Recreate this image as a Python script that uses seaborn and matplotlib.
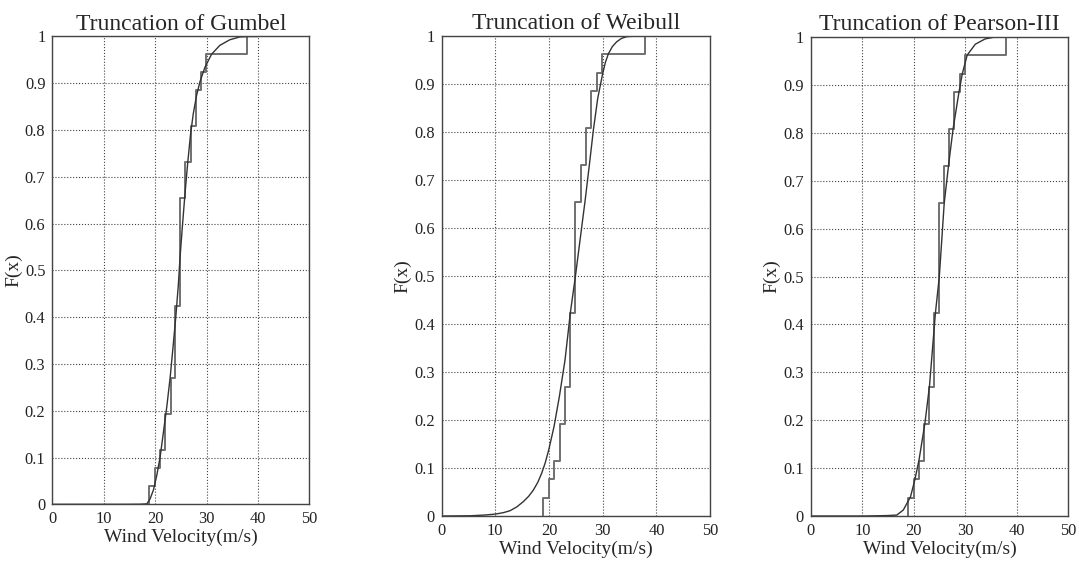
#Distribuciones truncadas frente a la funcion empirica de la velocidad del viento
import matplotlib
matplotlib.use('Agg')
import matplotlib.pyplot as plt
from matplotlib.ticker import MultipleLocator, FuncFormatter
import seaborn as sns

wind_speed = [18.9, 20.0, 21.0, 22.0, 22.0, 23.0, 23.0,
              23.9, 23.9, 23.9, 23.9,
              24.9, 24.9, 24.9, 24.9, 24.9, 24.9,
              25.9, 25.9, 26.9, 26.9, 27.9, 27.9,
              28.9, 29.9, 37.9]

# curvas ajustadas
gumbel_x = [0, 14.0, 17.0, 18.39, 19.03, 19.68, 20.32, 20.97, 21.61, 22.26, 22.90,
            23.55, 24.06, 24.52, 24.84, 25.29, 25.81, 26.32, 26.90, 27.42,
            28.06, 28.71, 29.68, 30.97, 32.58, 34.52, 36.45, 38.39, 40.0]
gumbel_F = [0, 0, 0.0002, 0.001, 0.012, 0.031, 0.062, 0.101, 0.154, 0.208, 0.269,
            0.344, 0.406, 0.470, 0.527, 0.593, 0.664, 0.728, 0.792, 0.835,
            0.874, 0.903, 0.934, 0.962, 0.981, 0.993, 0.999, 1.0, 1.0]

weibull_x = [0, 5.3, 8.0, 10.0, 11.5, 12.73, 14.0, 15.22, 16.2, 17.08, 17.9, 18.63,
             19.3, 19.94, 20.93, 21.93, 22.98,
             23.98, 24.91, 25.78, 26.71, 27.52, 28.26, 29.07, 30.0, 30.5, 31.06,
             31.8, 32.61, 33.5, 34.47, 36.34, 40.0]
weibull_F = [0, 0.0005, 0.002, 0.004, 0.007, 0.011, 0.019, 0.030, 0.041, 0.054, 0.070, 0.089,
             0.111, 0.1375, 0.186, 0.249, 0.325,
             0.424, 0.499, 0.575, 0.656, 0.732, 0.804, 0.870, 0.922, 0.945, 0.963,
             0.978, 0.988, 0.995, 0.9986, 1.0, 1.0]

pearson_x = [0, 10.0, 13.0, 15.0, 16.69, 17.96, 19.36, 20.19, 21.02, 22.17, 23.06,
             24.2, 24.97, 25.92, 26.75, 27.64, 28.79, 29.43, 30.38, 31.97,
             33.89, 35.8, 40.0]
pearson_F = [0, 0, 0.0005, 0.001, 0.002, 0.0125, 0.040, 0.075, 0.117, 0.194, 0.272,
             0.423, 0.5, 0.653, 0.731, 0.808, 0.885, 0.923, 0.962, 0.985,
             0.996, 1.0, 1.0]

sns.set_theme(style='white')
plt.rcParams['font.family'] = ['Liberation Serif', 'DejaVu Serif']


def graficar_panel(ax, curva_x, curva_F, titulo):
    sns.ecdfplot(x=wind_speed, ax=ax, color='#707070', linewidth=1.4)
    sns.lineplot(x=curva_x, y=curva_F, ax=ax, color='#333333', linewidth=1.0,
                 sort=False, estimator=None)
    ax.set_xlim(0, 50)
    ax.set_ylim(0, 1)
    ax.xaxis.set_major_locator(MultipleLocator(10))
    ax.yaxis.set_major_locator(MultipleLocator(0.1))
    ax.yaxis.set_major_formatter(FuncFormatter(lambda v, p: f'{v:g}'))
    ax.grid(True, linestyle=':', color='#444444', linewidth=0.8)
    ax.set_title(titulo, fontsize=17, pad=5)
    ax.set_xlabel('Wind Velocity(m/s)', fontsize=14, labelpad=1)
    ax.set_ylabel('F(x)', fontsize=14, labelpad=2)
    ax.tick_params(direction='in', length=0, labelsize=11.8, pad=5,
                   colors='#222222')
    for s in ax.spines.values():
        s.set_color('#444444')
        s.set_linewidth(1.0)


fig = plt.figure(figsize=(10.79, 5.65), dpi=100)
ax1 = fig.add_axes([0.0485, 0.1074, 0.2382, 0.828])
ax2 = fig.add_axes([0.4093, 0.0867, 0.2488, 0.8496])
ax3 = fig.add_axes([0.7516, 0.0867, 0.2382, 0.8478])

graficar_panel(ax1, gumbel_x, gumbel_F, 'Truncation of Gumbel')
graficar_panel(ax2, weibull_x, weibull_F, 'Truncation of Weibull')
graficar_panel(ax3, pearson_x, pearson_F, 'Truncation of Pearson-III')

fig.savefig('out.png', dpi=100)
